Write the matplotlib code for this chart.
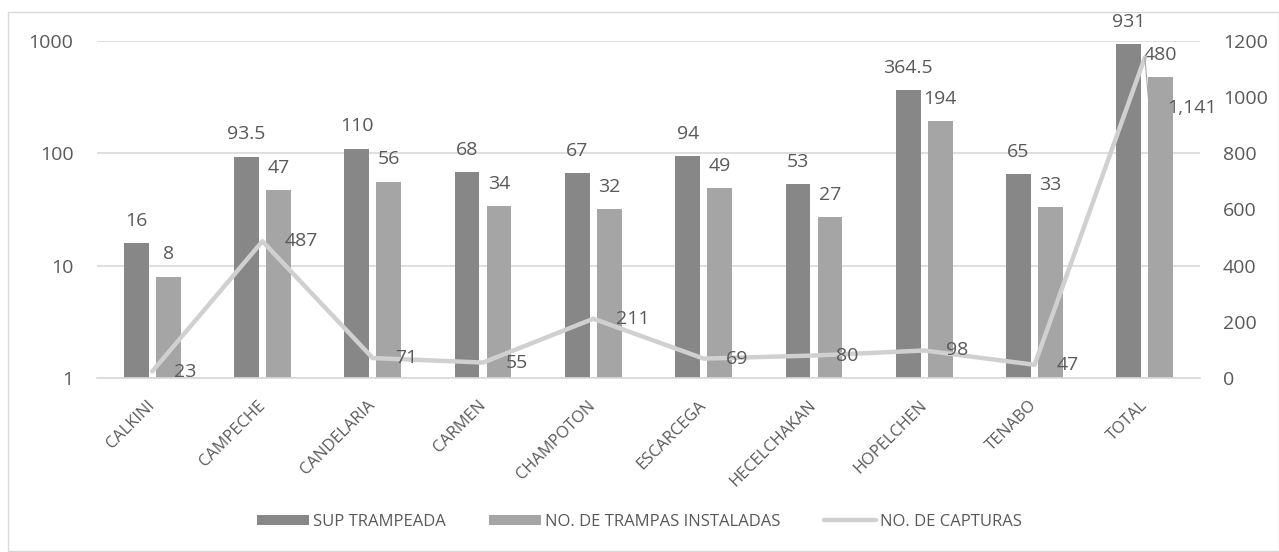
import matplotlib
matplotlib.use("Agg")
import matplotlib.pyplot as plt
import numpy as np
from matplotlib.patches import Rectangle

categories = ["CALKINI", "CAMPECHE", "CANDELARIA", "CARMEN", "CHAMPOTON",
              "ESCARCEGA", "HECELCHAKAN", "HOPELCHEN", "TENABO", "TOTAL"]
sup_trampeada = [16, 93.5, 110, 68, 67, 94, 53, 364.5, 65, 931]
sup_labels = ["16", "93.5", "110", "68", "67", "94", "53", "364.5", "65", "931"]
trampas = [8, 47, 56, 34, 32, 49, 27, 194, 33, 480]
capturas = [23, 487, 71, 55, 211, 69, 80, 98, 47, 1141]
cap_labels = ["23", "487", "71", "55", "211", "69", "80", "98", "47", "1,141"]

left_ticks = [1, 10, 100, 1000]
right_ticks = [0, 200, 400, 600, 800, 1000, 1200]

plt.rcParams['font.family'] = ['Open Sans', 'DejaVu Sans']
TXT = "#595959"
C_DARK = "#878787"
C_LIGHT = "#a5a5a5"
C_LINE = "#d0d0d0"

W, H = 1279, 552
fig = plt.figure(figsize=(W/100, H/100), dpi=100)
fig.patches.append(Rectangle((8/W, 1/H), (W-8)/W, (H-13)/H, transform=fig.transFigure,
                             fill=False, edgecolor="#d9d9d9", linewidth=1.0))

ax = fig.add_axes([97/W, 1-378/H, (1200-97)/W, (378-41)/H])
x = np.arange(len(categories))
bw = 0.225
off = 0.145
ax.bar(x - off, sup_trampeada, width=bw, color=C_DARK, zorder=2, label="SUP TRAMPEADA")
ax.bar(x + off, trampas, width=bw, color=C_LIGHT, zorder=2, label="NO. DE TRAMPAS INSTALADAS")
ax.set_yscale("log")
ax.set_ylim(1, 1000)
ax.set_xlim(-0.5, len(categories) - 0.5)
ax.set_yticks(left_ticks)
ax.set_yticklabels([str(t) for t in left_ticks])
ax.yaxis.set_minor_locator(matplotlib.ticker.NullLocator())
ax.grid(axis="y", color="#d9d9d9", linewidth=1.2, zorder=0)
for s in ["top", "right", "left"]:
    ax.spines[s].set_visible(False)
ax.spines["bottom"].set_color("#d9d9d9")
ax.spines["bottom"].set_linewidth(1.2)
ax.tick_params(axis="y", length=0, labelsize=14, colors=TXT, pad=17)
ax.tick_params(axis="x", length=0, labelsize=11.8, colors=TXT, pad=18)
ax.set_xticks(x)
ax.set_xticklabels(categories, rotation=45, ha="right", va="center", rotation_mode="anchor")

for i in range(len(categories)):
    ax.annotate(sup_labels[i], (x[i] - off, sup_trampeada[i]), xytext=(0, 16),
                textcoords="offset points", ha="center", va="center",
                fontsize=14, color=TXT)
    ax.annotate(str(trampas[i]), (x[i] + off, trampas[i]), xytext=(0, 16),
                textcoords="offset points", ha="center", va="center",
                fontsize=14, color=TXT)

ax2 = ax.twinx()
ax2.plot(x, capturas, color=C_LINE, linewidth=3.2, zorder=3, label="NO. DE CAPTURAS",
         solid_capstyle="round", solid_joinstyle="round")
ax2.set_ylim(0, 1200)
ax2.set_yticks(right_ticks)
ax2.set_yticklabels([str(t) for t in right_ticks])
for s in ["top", "right", "left", "bottom"]:
    ax2.spines[s].set_visible(False)
ax2.tick_params(axis="y", length=0, labelsize=14, colors=TXT, pad=16.5)

for i in range(len(categories)):
    if i == len(categories) - 1:
        ax2.annotate(cap_labels[i], (x[i], capturas[i]), xytext=(16, -36),
                     textcoords="offset points", ha="left", va="center",
                     fontsize=14, color=TXT,
                     arrowprops=dict(arrowstyle="-", color="#a6a6a6", lw=0.8,
                                     shrinkA=0, shrinkB=0,
                                     relpos=(-0.36, 0.5)))
    else:
        ax2.annotate(cap_labels[i], (x[i], capturas[i]), xytext=(16, 0),
                     textcoords="offset points", ha="left", va="center",
                     fontsize=14, color=TXT)

h1, l1 = ax.get_legend_handles_labels()
h2, l2 = ax2.get_legend_handles_labels()
fig.legend(h1 + h2, l1 + l2, loc="center", bbox_to_anchor=(0.5, 1 - 522/H), ncol=3,
           frameon=False, fontsize=12, labelcolor=TXT, handlelength=3.1,
           handleheight=0.6, columnspacing=2.6, handletextpad=0.25)

fig.savefig("out.png", dpi=100)
